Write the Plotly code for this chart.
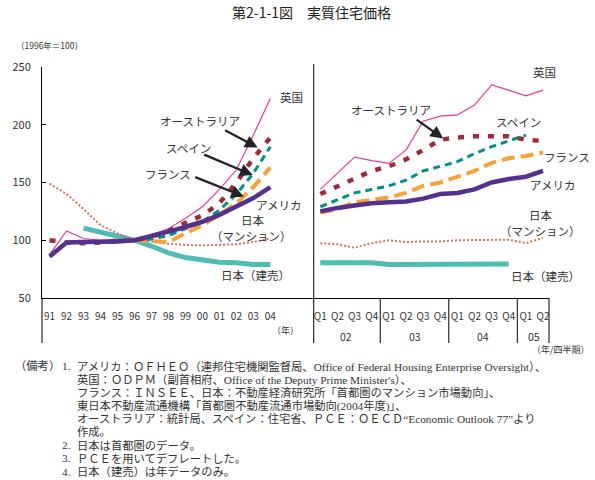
import plotly.graph_objects as go

# ---------------- data ----------------
years = ["91", "92", "93", "94", "95", "96", "97", "98", "99", "00", "01", "02", "03", "04"]
quarters = ["Q1", "Q2", "Q3", "Q4", "Q1", "Q2", "Q3", "Q4", "Q1", "Q2", "Q3", "Q4", "Q1", "Q2"]
quarter_years = ["02", "03", "04", "05"]

# annual (1996 = 100); None = no data
us_a    = [86, 98, 98.5, 98.5, 99, 100, 103.5, 107.5, 111.5, 116, 122, 129, 136.5, 146]
uk_a    = [87.5, 108, 101.5, 100, 101, 100, 105, 110, 119, 129, 144, 161, 191, 223]
aus_a   = [100, 98, 97.5, 98, 99.5, 100, 103, 108, 115, 121.5, 132, 150, 171, 189]
spa_a   = [None, None, None, None, None, 100, 101, 104, 110, 116, 126, 140, 158, 181]
fra_a   = [None, None, None, None, None, 100, 99, 98.5, 106, 113, 122, 132, 146, 163]
jpm_a   = [149, 140, 127, 113, 106, 100, 99, 97, 96, 95.5, 96, 96.5, 98.5, 101.5]
jpd_a   = [None, None, 110.5, 107, 103.5, 100, 95, 89, 85, 83, 81, 80.5, 79, 79]

# quarterly (2002Q1 .. 2005Q2)
us_q  = [125, 128, 130, 132, 133, 133.5, 136, 140, 141, 144, 150, 153, 155, 160]
uk_q  = [144, 158, 172, 169, 166.5, 178, 203, 207.5, 208.5, 217, 234.5, 230, 225, 230]
aus_q = [140, 147, 153, 160, 164, 170, 178, 187, 189, 190, 190, 190, 187, 186]
spa_q = [129, 135, 141, 144, 147, 152, 160, 164, 168, 175, 181, 186, 191]
fra_q = [124, 127, 133, 135, 137, 141, 147, 150, 155, 160, 167, 171, 173, 176]
jpm_q = [97.5, 96.5, 93.5, 97.5, 100, 98.5, 99, 99, 100, 100, 100.5, 100.5, 97.5, 102]
jpd_q = [80.5, 80.5, 80.5, 80.5, 79, 79, 79, 79, 79.5, 79.5, 79.5, 79.5]

yticks = [50, 100, 150, 200, 250]

# ---------------- geometry helpers ----------------
W, H = 595, 480
L, R, T, B = 34, 549, 67, 298
PW, PH = R - L, B - T
SPLIT = 310


def px(x):
    return (x - L) / PW


def py(y):
    return (B - y) / PH


FONT = "Noto Sans CJK JP, sans-serif"
TXT = "#333333"

series = [
    # name, annual, quarterly, color, width, dash
    ("jpd", jpd_a, jpd_q, "#4DBDB5", 5, "solid"),
    ("jpm", jpm_a, jpm_q, "#D9705F", 2, "2px,2px"),
    ("uk", uk_a, uk_q, "#E23C9C", 1.2, "solid"),
    ("fra", fra_a, fra_q, "#F5A236", 4, "13px,6px"),
    ("spa", spa_a, spa_q, "#00908A", 3, "7px,5px"),
    ("aus", aus_a, aus_q, "#992E3A", 4.5, "6px,9px"),
    ("us", us_a, us_q, "#54318F", 4.5, "solid"),
]

fig = go.Figure()
for name, ann, qtr, col, w, dash in series:
    xa = list(range(len(ann)))
    fig.add_trace(go.Scatter(x=xa, y=ann, mode="lines", xaxis="x", yaxis="y",
                             line=dict(color=col, width=w, dash=dash),
                             connectgaps=False, showlegend=False, hoverinfo="skip"))
    xq = list(range(len(qtr)))
    fig.add_trace(go.Scatter(x=xq, y=qtr, mode="lines", xaxis="x2", yaxis="y",
                             line=dict(color=col, width=w, dash=dash),
                             showlegend=False, hoverinfo="skip"))

split_p = px(SPLIT)
left_step = 17.25
right_step = 17.4
left_first = 41.7
right_first = 316.7

axis_common = dict(showgrid=False, zeroline=False, showline=True, linecolor="#000000",
                   linewidth=1, ticks="", tickfont=dict(family=FONT, size=10, color=TXT),
                   ticklabelstandoff=9, fixedrange=True)

fig.update_layout(
    width=W, height=H,
    margin=dict(l=L, r=W - R, t=T, b=H - B),
    paper_bgcolor="white", plot_bgcolor="white",
    xaxis=dict(domain=[0, split_p],
               range=[-(left_first - L) / left_step, (SPLIT - left_first) / left_step],
               tickmode="array", tickvals=list(range(len(years))), ticktext=years,
               anchor="y", **axis_common),
    xaxis2=dict(domain=[split_p, 1],
                range=[-(right_first - SPLIT) / right_step, (R - right_first) / right_step],
                tickmode="array", tickvals=list(range(len(quarters))), ticktext=quarters,
                anchor="y", **axis_common),
    yaxis=dict(range=[50, 250], tickvals=yticks, showgrid=False, zeroline=False,
               showline=True, linecolor="#000000", linewidth=1, ticks="inside", ticklen=4,
               tickcolor="#000000", tickfont=dict(family=FONT, size=11, color=TXT),
               ticklabelstandoff=8, fixedrange=True),
    font=dict(family=FONT, size=11, color=TXT),
)

shapes = []
# split line / right panel y axis
shapes.append(dict(type="line", xref="paper", yref="paper", x0=split_p, x1=split_p,
                   y0=py(64), y1=py(343), line=dict(color="#000000", width=1)))
# left axis extension below plot
shapes.append(dict(type="line", xref="paper", yref="paper", x0=0, x1=0,
                   y0=0, y1=py(343), line=dict(color="#000000", width=1)))
# year separators in right panel
for sep in [3.5, 7.5, 11.5]:
    shapes.append(dict(type="line", xref="x2", yref="paper", x0=sep, x1=sep,
                       y0=0, y1=py(343), line=dict(color="#000000", width=1)))
shapes.append(dict(type="line", xref="paper", yref="paper", x0=1, x1=1,
                   y0=0, y1=py(343), line=dict(color="#000000", width=1)))
fig.update_layout(shapes=shapes)

ann = []


def label(text, x, y, size=11.5, xanchor="center", family=FONT, color=TXT):
    ann.append(dict(text=text, x=px(x), y=py(y), xref="paper", yref="paper",
                    showarrow=False, xanchor=xanchor, yanchor="middle",
                    font=dict(family=family, size=size, color=color)))


label("第2-1-1図　実質住宅価格", 308, 12, size=14, color="#222222")
label("（1996年＝100）", 6, 45, size=8.5, xanchor="left")

# left panel labels
label("英国", 287, 97)
label("オーストラリア", 195, 121)
label("スペイン", 183, 148)
label("フランス", 162, 174)
label("アメリカ", 274, 205)
label("日本", 248, 220)
label("（マンション）", 247, 236)
label("日本（建売）", 251, 275)

# right panel labels
label("英国", 544, 72)
label("オーストラリア", 388, 110)
label("スペイン", 518, 122)
label("フランス", 567, 157)
label("アメリカ", 553, 185)
label("日本", 541, 215)
label("（マンション）", 540, 231)
label("日本（建売）", 545, 276)

# axis unit captions
label("（年）", 281, 330, size=9)
label("（年/四半期）", 593, 349, size=9, xanchor="right")

# year labels under quarters
for i, yl in enumerate(quarter_years):
    xc = [1.5, 5.5, 9.5, 12.5][i]
    ann.append(dict(text=yl, x=xc, y=py(336), xref="x2", yref="paper", showarrow=False,
                    xanchor="center", yanchor="middle",
                    font=dict(family=FONT, size=10.5, color=TXT)))


def arrow(xref, xdata, ydata, ax, ay):
    ann.append(dict(text="", x=xdata, y=ydata, xref=xref, yref="y", ax=ax, ay=ay,
                    showarrow=True, arrowhead=2, arrowsize=1.1, arrowwidth=2.3,
                    arrowcolor="#222222"))


def to_val(ypix):
    return 50 + (B - ypix) / (PH / 200)


arrow("x", (253 - left_first) / left_step, to_val(147.5), -34, -18)
arrow("x", (248 - left_first) / left_step, to_val(175), -50, -21)
arrow("x", (239 - left_first) / left_step, to_val(196.5), -50, -20)
arrow("x2", (441.5 - right_first) / right_step, to_val(138.5), -28, -20)

# notes
NOTE_FONT = "Liberation Serif, Noto Sans CJK JP, serif"
notes = [
    "アメリカ：ＯＦＨＥＯ（連邦住宅機関監督局、Office of Federal Housing Enterprise Oversight）、",
    "英国：ＯＤＰＭ（副首相府、Office of the Deputy Prime Minister's）、",
    "フランス：ＩＮＳＥＥ、日本：不動産経済研究所「首都圏のマンション市場動向」、",
    "東日本不動産流通機構「首都圏不動産流通市場動向(2004年度)」、",
    "オーストラリア：統計局、スペイン：住宅省、ＰＣＥ：ＯＥＣＤ“Economic Outlook 77”より",
    "作成。",
]
notes2 = [("2.", "日本は首都圏のデータ。"), ("3.", "ＰＣＥを用いてデフレートした。"),
          ("4.", "日本（建売）は年データのみ。")]
y0 = 366
dy = 13.2
NS = 11.3
label("（備考）", 5, y0, size=NS, xanchor="left", family=NOTE_FONT)
label("1.", 52, y0, size=NS, xanchor="left", family=NOTE_FONT)
for k, t in enumerate(notes):
    label(t, 68, y0 + dy * k, size=NS, xanchor="left", family=NOTE_FONT)
for k, (n, t) in enumerate(notes2):
    yy = y0 + dy * (len(notes) + k)
    label(n, 52, yy, size=NS, xanchor="left", family=NOTE_FONT)
    label(t, 68, yy, size=NS, xanchor="left", family=NOTE_FONT)

fig.update_layout(annotations=ann)
fig.write_html("out.html")
